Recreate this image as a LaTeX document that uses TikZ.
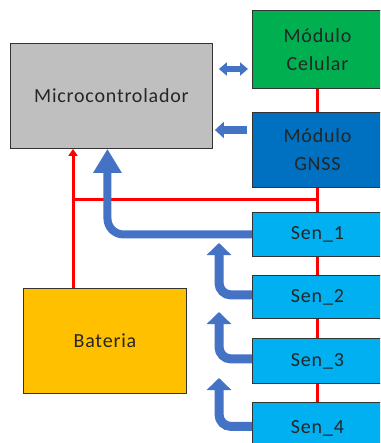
\documentclass[tikz,border=0pt]{standalone}
\usepackage{fontspec}
\setmainfont{Carlito}[LetterSpace=4]
\usetikzlibrary{arrows.meta,calc}
\definecolor{mcgray}{HTML}{BFBFBF}
\definecolor{celgreen}{HTML}{00B050}
\definecolor{gnssblue}{HTML}{0070C0}
\definecolor{senblue}{HTML}{00B0F0}
\definecolor{batorange}{HTML}{FFC000}
\definecolor{arrblue}{HTML}{4472C4}
\definecolor{pwrred}{HTML}{FF0000}
\tikzset{
  blk/.style={draw=black!80, line width=0.9pt, anchor=north west, inner sep=0pt,
    align=center, text=black!85, font=\fontsize{20}{28}\selectfont},
  pwr/.style={draw=pwrred, line width=3pt},
  sig/.style={draw=arrblue, line width=9pt},
}
\begin{document}
\begin{tikzpicture}[x=1pt,y=-1pt]
\clip (0,0) rectangle (380,443);
\fill[white] (0,0) rectangle (380,443);
% blocks
\node[blk, fill=mcgray, minimum width=202pt, minimum height=105pt] (mc) at (10,43) {Microcontrolador};
\node[blk, fill=celgreen, minimum width=130pt, minimum height=78pt] (cel) at (252,10) {Módulo\\Celular};
\node[blk, fill=gnssblue, minimum width=130pt, minimum height=75pt] (gnss) at (252,112) {Módulo\\GNSS};
\node[blk, fill=senblue, minimum width=130pt, minimum height=44pt] (s1) at (252,212) {Sen\_1};
\node[blk, fill=senblue, minimum width=130pt, minimum height=43pt] (s2) at (252,275) {Sen\_2};
\node[blk, fill=senblue, minimum width=130pt, minimum height=45pt] (s3) at (252,338) {Sen\_3};
\node[blk, fill=senblue, minimum width=130pt, minimum height=52pt] (s4) at (252,402) {Sen\_4};
\node[blk, fill=batorange, minimum width=163pt, minimum height=105pt] (bat) at (23,288) {Bateria};
% power lines
\coordinate (rj) at ($(gnss.south)!0.5!(s1.north)$);
\coordinate (bp) at ([xshift=50pt]bat.north west);
\draw[pwr] (cel.south) -- (gnss.north);
\draw[pwr] (gnss.south) -- (s1.north);
\draw[pwr] (s1.south) -- (s2.north);
\draw[pwr] (s2.south) -- (s3.north);
\draw[pwr] (s3.south) -- (s4.north);
\draw[pwr] (rj) -- (rj -| bp);
\draw[pwr, -{Triangle[width=9pt,length=7pt]}] (bp) -- (bp |- mc.south);
% signal arrows
\draw[sig, line width=6pt, {Triangle[width=13pt,length=8pt]}-{Triangle[width=13pt,length=8pt]}]
  ([xshift=6pt]mc.east |- 0,69) -- ([xshift=-4pt]cel.west |- 0,69);
\draw[sig, line width=8pt, -{Triangle[width=16pt,length=9pt]}]
  ([xshift=-5pt]gnss.west |- 0,130) -- ([xshift=2pt]mc.east |- 0,130);
\draw[sig, line width=8pt, rounded corners=16pt, -{Triangle[width=27pt,length=24pt]}]
  (s1.west) -| ([xshift=-4pt]mc.south);
\draw[sig, rounded corners=12pt, -{Triangle[width=24pt,length=12pt]}]
  ([yshift=2pt]s2.west) -| (219,243);
\draw[sig, rounded corners=12pt, -{Triangle[width=24pt,length=12pt]}]
  ([yshift=2pt]s3.west) -| (219,312);
\draw[sig, rounded corners=12pt, -{Triangle[width=24pt,length=12pt]}]
  ([yshift=2pt]s4.west) -| (219,378);
\end{tikzpicture}
\end{document}
